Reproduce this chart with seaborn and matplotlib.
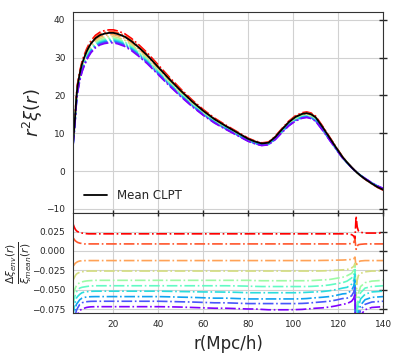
import numpy as np
import matplotlib
matplotlib.use("Agg")
import matplotlib.pyplot as plt
import seaborn as sns

# separation grid (Mpc/h)
r = [2, 2.5, 3, 3.5, 4, 5, 6, 7, 8, 9, 10,
     12, 14, 16, 18, 20, 22, 25, 28, 31, 35, 40, 45, 50, 55, 60, 65, 70,
     75, 80, 83, 86, 89, 92, 95, 98, 101, 104, 106, 108, 110,
     113, 116, 119, 122,
     124, 126, 127, 127.5, 128, 128.5, 129, 130, 132, 135, 137.5, 140]

# mean CLPT r^2 xi(r)
mean_clpt = [7.5, 11.0, 15.0, 19.5, 22.5, 25.8, 28.3, 30.0, 31.5, 32.7, 33.7,
             35.1, 35.9, 36.3, 36.5, 36.5, 36.2, 35.5, 34.3, 32.8, 30.6, 27.4, 24.2,
             21.2, 18.4, 15.9, 13.7, 11.9,
             10.2, 8.5, 7.8, 7.3, 7.5, 9.0, 11.0, 12.9, 14.3, 15.1, 15.3, 15.0, 14.2,
             11.7, 9.0, 6.3, 3.7,
             2.3, 1.0, 0.4, 0.1, -0.15, -0.45, -0.7, -1.2, -2.1, -3.3, -4.2, -4.9]

# fractional difference of each environment bin wrt the mean
env_red = ([0.035, 0.031, 0.028, 0.026, 0.025, 0.0235, 0.023, 0.0225, 0.0222, 0.022, 0.022]
           + [0.022] * 34
           + [0.022, 0.021, 0.019, 0.015, 0.045, 0.031, 0.026, 0.024, 0.023, 0.023, 0.023, 0.023])
env_orangered = ([0.017, 0.015, 0.013, 0.012, 0.011, 0.010, 0.0095, 0.009, 0.009, 0.009, 0.009]
                 + [0.009] * 34
                 + [0.009, 0.0095, 0.011, 0.015, 0.002, 0.006, 0.008, 0.0085, 0.009, 0.009, 0.009, 0.009])
env_orange = ([-0.020, -0.018, -0.016, -0.015, -0.014, -0.013, -0.0128, -0.0126, -0.0125, -0.0125, -0.0125]
              + [-0.0125] * 30 + [-0.0123, -0.0122, -0.012, -0.0118]
              + [-0.0115, -0.011, -0.010, -0.008, -0.020, -0.016, -0.014, -0.013, -0.0125, -0.0125, -0.0125, -0.0125])
env_yellow = ([-0.038, -0.035, -0.032, -0.030, -0.029, -0.0275, -0.027, -0.0265, -0.0262, -0.026, -0.026]
              + [-0.026] * 30 + [-0.0258, -0.0255, -0.025, -0.0245]
              + [-0.024, -0.022, -0.020, -0.016, -0.060, -0.038, -0.032, -0.029, -0.027, -0.026, -0.026, -0.026])
env_lightgreen = ([-0.058, -0.052, -0.048, -0.045, -0.043, -0.041, -0.040, -0.0393, -0.0388, -0.0385, -0.0383]
                  + [-0.038] * 17
                  + [-0.038, -0.038, -0.0383, -0.0385, -0.0385, -0.0385, -0.0385, -0.0385, -0.0385,
                     -0.0385, -0.0385, -0.0383, -0.038]
                  + [-0.0375, -0.037, -0.0355, -0.034]
                  + [-0.032, -0.029, -0.025, -0.020, -0.12, -0.07, -0.055, -0.046, -0.041, -0.039, -0.0385, -0.038])
env_green = ([-0.070, -0.062, -0.057, -0.053, -0.051, -0.048, -0.047, -0.0465, -0.046, -0.0456, -0.0453]
             + [-0.045] * 17
             + [-0.0452, -0.0455, -0.0458, -0.046, -0.046, -0.046, -0.046, -0.046, -0.046,
                -0.046, -0.046, -0.0458, -0.0455]
             + [-0.045, -0.044, -0.0425, -0.041]
             + [-0.039, -0.035, -0.030, -0.024, -0.13, -0.08, -0.064, -0.054, -0.048, -0.046, -0.0455, -0.045])
env_cyan = ([-0.084, -0.074, -0.066, -0.061, -0.059, -0.056, -0.054, -0.0532, -0.0527, -0.0524, -0.0522]
            + [-0.052] * 11 + [-0.0522, -0.0525, -0.0527, -0.053, -0.053, -0.0532]
            + [-0.0535, -0.054, -0.054, -0.054, -0.054, -0.054, -0.054, -0.054, -0.054,
               -0.0538, -0.0535, -0.0532, -0.053]
            + [-0.0525, -0.0515, -0.050, -0.048]
            + [-0.047, -0.043, -0.038, -0.030, -0.14, -0.09, -0.073, -0.062, -0.056, -0.053, -0.0525, -0.052])
env_sky = ([-0.094, -0.082, -0.075, -0.069, -0.067, -0.063, -0.061, -0.060, -0.0596, -0.0593, -0.0591]
           + [-0.059] * 11 + [-0.0593, -0.0597, -0.060, -0.0605, -0.061, -0.061]
           + [-0.0615, -0.062, -0.062, -0.062, -0.062, -0.062, -0.062, -0.062, -0.062,
              -0.0618, -0.0615, -0.061, -0.0605]
           + [-0.0598, -0.059, -0.0575, -0.0555]
           + [-0.055, -0.051, -0.045, -0.036, -0.15, -0.10, -0.081, -0.070, -0.063, -0.060, -0.0595, -0.059])
env_blue = ([-0.104, -0.091, -0.083, -0.077, -0.074, -0.069, -0.067, -0.066, -0.0656, -0.0653, -0.0651]
            + [-0.065] * 11 + [-0.0653, -0.0657, -0.066, -0.0665, -0.067, -0.067]
            + [-0.0675, -0.068, -0.068, -0.068, -0.068, -0.068, -0.068, -0.068, -0.068,
               -0.0678, -0.0675, -0.067, -0.0665]
            + [-0.0658, -0.065, -0.0635, -0.0615]
            + [-0.061, -0.058, -0.053, -0.045, -0.16, -0.11, -0.088, -0.076, -0.069, -0.066, -0.0655, -0.065])
env_purple = ([-0.115, -0.101, -0.092, -0.086, -0.082, -0.077, -0.075, -0.074, -0.073, -0.0725, -0.0722]
              + [-0.072] * 11 + [-0.0722, -0.0725, -0.073, -0.0735, -0.074, -0.074]
              + [-0.0745, -0.075, -0.075, -0.0755, -0.076, -0.076, -0.076, -0.076, -0.0758,
                 -0.0755, -0.075, -0.0745, -0.074]
              + [-0.0735, -0.0725, -0.071, -0.069]
              + [-0.068, -0.065, -0.061, -0.055, -0.17, -0.12, -0.095, -0.083, -0.076, -0.073, -0.0725, -0.072])

env_ratios = [env_red, env_orangered, env_orange, env_yellow, env_lightgreen,
              env_green, env_cyan, env_sky, env_blue, env_purple]

sns.set_style("whitegrid", {"axes.edgecolor": "0.2", "grid.color": "0.82"})
plt.rcParams["font.family"] = ["DejaVu Sans"]

colors = plt.cm.rainbow(np.linspace(1, 0, len(env_ratios)))

fig = plt.figure(figsize=(3.99, 3.55), dpi=100)
gs = fig.add_gridspec(2, 1, height_ratios=[2, 1], hspace=0,
                      left=0.183, right=0.96, top=0.966, bottom=0.118)
ax1 = fig.add_subplot(gs[0])
ax2 = fig.add_subplot(gs[1], sharex=ax1)

r_arr = np.array(r)
mean_arr = np.array(mean_clpt)

#top: r^2 xi for each environment + mean
for ratio, c in zip(env_ratios, colors):
    sns.lineplot(x=r_arr, y=mean_arr * (1 + np.array(ratio)), color=c, linestyle='-.',
                 lw=1.2, ax=ax1, sort=False)
sns.lineplot(x=r_arr, y=mean_arr, color='black', lw=1.3, ax=ax1, sort=False,
             label='Mean CLPT')
ax1.legend(loc='lower left', frameon=False, fontsize=8.5)
ax1.set_ylim(-11, 42)
ax1.set_yticks([-10, 0, 10, 20, 30, 40])
ax1.set_ylabel(r'$r^2\xi(r)$', fontsize=13)
ax1.yaxis.set_label_coords(-0.09, 0.5)

#bottom: fractional difference
for ratio, c in zip(env_ratios, colors):
    sns.lineplot(x=r_arr, y=ratio, color=c, linestyle='-.', lw=1.2, ax=ax2, sort=False)
ax2.set_ylim(-0.0803, 0.0492)
ax2.set_yticks([-0.075, -0.05, -0.025, 0.0, 0.025])
ax2.set_xlim(2, 140)
ax2.set_xticks([20, 40, 60, 80, 100, 120, 140])
ax2.set_xlabel('r(Mpc/h)', fontsize=12)
ax2.set_ylabel(r'$\frac{\Delta\xi_{env}(r)}{\xi_{mean}(r)}$', fontsize=11, va='center')
ax2.yaxis.set_label_coords(-0.175, 0.5)

ax1.tick_params(axis='y', direction='inout', length=6, right=True)
ax1.tick_params(axis='x', direction='inout', length=5, labelbottom=False)
ax2.tick_params(axis='y', direction='inout', length=6, right=True)
ax2.tick_params(axis='x', direction='inout', length=5, top=True)
for ax in (ax1, ax2):
    ax.tick_params(width=1, labelsize=6.5, pad=2.5, colors='0.15')

plt.savefig('out.png', dpi=100)
